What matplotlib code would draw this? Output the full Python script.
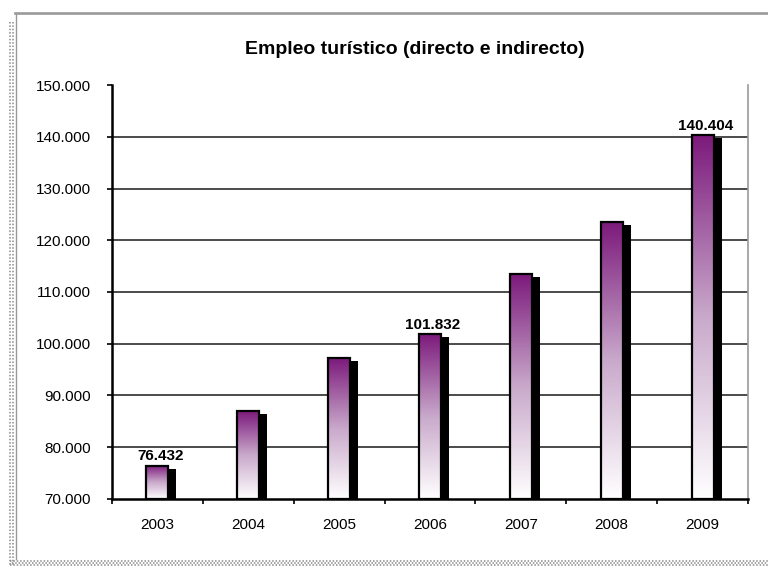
import matplotlib
matplotlib.use('Agg')
import matplotlib.pyplot as plt
import numpy as np
from matplotlib.patches import Rectangle
from matplotlib.colors import LinearSegmentedColormap
from matplotlib.lines import Line2D

# Data
years = ['2003', '2004', '2005', '2006', '2007', '2008', '2009']
empleo = [76432, 86900, 97200, 101832, 113400, 123500, 140404]
value_labels = {'2003': '76.432', '2006': '101.832', '2009': '140.404'}
y_ticks = [70000, 80000, 90000, 100000, 110000, 120000, 130000, 140000, 150000]
y_tick_labels = ['70.000', '80.000', '90.000', '100.000', '110.000',
                 '120.000', '130.000', '140.000', '150.000']
title = 'Empleo turístico (directo e indirecto)'

plt.rcParams['font.family'] = ['Liberation Sans', 'DejaVu Sans']

W, H = 768, 569
fig = plt.figure(figsize=(W / 100, H / 100), dpi=100)
fig.patch.set_facecolor('white')

# plot area in pixel coordinates
left, right, top, bottom = 112, 748, 85.2, 498.8
ax = fig.add_axes([left / W, (H - bottom) / H, (right - left) / W, (bottom - top) / H])
ymin, ymax = y_ticks[0], y_ticks[-1]

px_per_cat = (right - left) / len(years)
px_per_val = (bottom - top) / (ymax - ymin)
bar_w = 22 / px_per_cat
shadow_dx = 8 / px_per_cat
shadow_dy = 3 / px_per_val

cmap = LinearSegmentedColormap.from_list('purple_fade', ['#ffffff', '#c9a9cb', '#7c1a7c'])
grad = np.linspace(0, 1, 256).reshape(-1, 1)

# horizontal gridlines
for t in y_ticks[1:-1]:
    ax.axhline(t, color='#1a1a1a', lw=1.1, zorder=1)

for i, (yr, v) in enumerate(zip(years, empleo)):
    x0 = i - bar_w / 2
    # drop shadow
    ax.add_patch(Rectangle((x0 + shadow_dx, ymin), bar_w, v - shadow_dy - ymin,
                           facecolor='black', edgecolor='none', zorder=2))
    # gradient bar body
    rect = Rectangle((x0, ymin), bar_w, v - ymin, facecolor='none',
                     edgecolor='black', lw=1.6, zorder=4)
    ax.add_patch(rect)
    im = ax.imshow(grad, extent=(x0, x0 + bar_w, ymin, v), origin='lower',
                   aspect='auto', cmap=cmap, zorder=3, interpolation='bilinear')
    im.set_clip_path(rect)
    if yr in value_labels:
        ax.annotate(value_labels[yr], (i + 0.03, v), xytext=(0, 1.5),
                    textcoords='offset points', ha='center', va='bottom',
                    fontsize=11, fontweight='bold', zorder=5)

ax.set_xlim(-0.5, len(years) - 0.5)
ax.set_ylim(ymin, ymax)

ax.set_yticks(y_ticks)
ax.set_yticklabels(y_tick_labels)
ax.set_xticks(range(len(years)))
ax.set_xticklabels(years)
ax.set_xticks(np.arange(-0.5, len(years)), minor=True)

ax.tick_params(axis='y', direction='out', length=3.6, width=1.2, pad=11.5,
               labelsize=11, colors='black')
ax.tick_params(axis='x', which='major', length=0, pad=14, labelsize=11)
ax.tick_params(axis='x', which='minor', direction='out', length=3.6, width=1.2)

ax.spines['top'].set_visible(False)
ax.spines['right'].set_color('#9a9a9a')
ax.spines['right'].set_linewidth(1.2)
ax.spines['left'].set_linewidth(1.8)
ax.spines['bottom'].set_linewidth(1.8)

fig.text(414.5 / W, 1 - 49 / H, title, ha='center', va='center',
         fontsize=14, fontweight='bold')

# chart frame decoration
def fx(x):
    return x / W

def fy(y):
    return 1 - y / H

fig.add_artist(Line2D([fx(15), fx(768)], [fy(13.3), fy(13.3)], color='#9a9a9a', lw=1.9))
fig.add_artist(Line2D([fx(15.8), fx(15.8)], [fy(13), fy(559)], color='#9a9a9a', lw=1.0))
for xx in (9.5, 12.5):
    fig.add_artist(Line2D([fx(xx), fx(xx)], [fy(22), fy(566)], color='#8a8a8a',
                          lw=1.1, linestyle=(0, (1, 1.2))))
for k, yy in enumerate((560.5, 562.5, 564.5)):
    fig.add_artist(Line2D([fx(10), fx(768)], [fy(yy), fy(yy)], color='#8a8a8a',
                          lw=1.1, linestyle=(k % 2, (1, 1.2))))

fig.savefig('out.png', dpi=100)
